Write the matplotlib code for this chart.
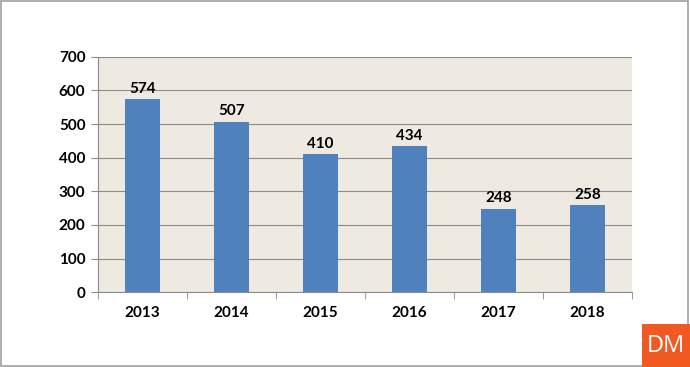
import matplotlib
matplotlib.use("Agg")
from matplotlib import pyplot as plt
from matplotlib.patches import Rectangle

years = ["2013", "2014", "2015", "2016", "2017", "2018"]
counts = [574, 507, 410, 434, 248, 258]
y_ticks = [0, 100, 200, 300, 400, 500, 600, 700]

plt.rcParams["font.family"] = ["Lato", "DejaVu Sans"]

fig = plt.figure(figsize=(6.9, 3.67), dpi=100)
ax = fig.add_axes([0.142, 0.204, 0.774, 0.641])
ax.set_facecolor("#EEEAE1")

x = range(len(years))
bars = ax.bar(x, counts, width=0.4, color="#4F81BD", zorder=3)
for xi, v in zip(x, counts):
    ax.text(xi, v + 10, str(v), ha="center", va="bottom",
            fontsize=11, fontweight="bold", color="black", zorder=4)

ax.set_ylim(0, 700)
ax.set_xlim(-0.5, len(years) - 0.5)
ax.set_yticks(y_ticks)
ax.set_xticks(list(x))
ax.set_xticklabels(years)
ax.set_xticks([i - 0.5 for i in range(len(years) + 1)], minor=True)
ax.grid(axis="y", color="#8C8C8C", linewidth=0.8, zorder=1)

for s in ["top", "right"]:
    ax.spines[s].set_visible(False)
for s in ["left", "bottom"]:
    ax.spines[s].set_color("#8C8C8C")
    ax.spines[s].set_linewidth(0.8)

ax.tick_params(axis="y", length=5, color="#8C8C8C", labelsize=11, pad=4)
ax.tick_params(axis="x", which="major", length=0, labelsize=11, pad=10)
ax.tick_params(axis="x", which="minor", length=5, color="#8C8C8C")
for lab in ax.get_xticklabels() + ax.get_yticklabels():
    lab.set_fontweight("bold")

# outer border
fig.patches.append(Rectangle((0.002, 0.003), 0.995, 0.994, transform=fig.transFigure,
                             fill=False, edgecolor="#A0A0A0", linewidth=1.2))

# DM logo
fig.patches.append(Rectangle((642 / 690, 0), 48 / 690, 43 / 367, transform=fig.transFigure,
                             facecolor="#F05A22", edgecolor="none"))
fig.text(666 / 690, 21 / 367, "DM", ha="center", va="center", color="white",
         fontsize=17, family="Open Sans")

fig.savefig("out.png", dpi=100)
